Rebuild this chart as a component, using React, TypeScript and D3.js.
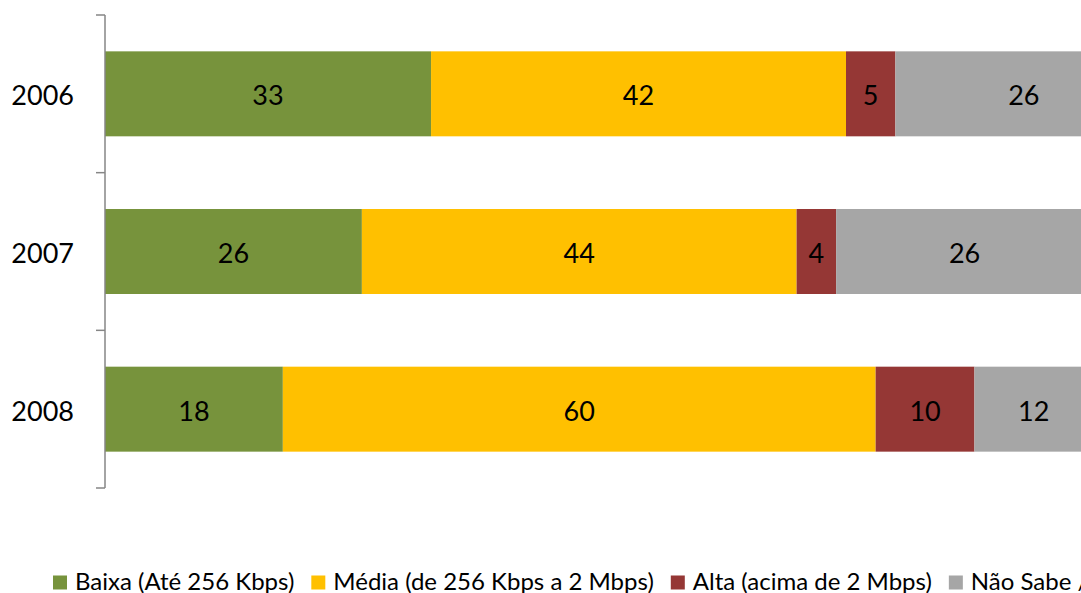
import React, { useEffect, useRef } from "react";
import * as d3 from "d3";

// Broadband speed share by year (%)
const years = ["2006", "2007", "2008"];
const seriesNames = [
  "Baixa (Até 256 Kbps)",
  "Média (de 256 Kbps a 2 Mbps)",
  "Alta (acima de 2 Mbps)",
  "Não Sabe / Não Respondeu",
];
const baixa = [33, 26, 18];
const media = [42, 44, 60];
const alta = [5, 4, 10];
const naoSabe = [26, 26, 12];
const seriesColors = ["#77933C", "#FFC000", "#953735", "#A6A6A6"];

const W = 1081;
const H = 593;
const FONT = "Lato, 'Open Sans', sans-serif";

export default function App() {
  const ref = useRef<SVGSVGElement>(null);

  useEffect(() => {
    const svg = d3.select(ref.current);
    svg.selectAll("*").remove();

    const values = [baixa, media, alta, naoSabe];
    const rows = years.map((y, i) => {
      const r: any = { year: y };
      seriesNames.forEach((s, k) => (r[s] = values[k][i]));
      return r;
    });
    const stacked = d3.stack<any>().keys(seriesNames)(rows);

    const x = d3.scaleLinear().domain([0, 100]).range([105, 1093]);
    const y = d3
      .scaleBand<string>()
      .domain(years)
      .range([15, 488])
      .paddingInner(0.461)
      .paddingOuter(0.2305);

    const g = svg.append("g");

    stacked.forEach((layer, k) => {
      const lg = g.append("g");
      lg.selectAll("rect")
        .data(layer)
        .join("rect")
        .attr("x", (d) => x(d[0]))
        .attr("y", (d) => y(d.data.year)!)
        .attr("width", (d) => x(d[1]) - x(d[0]))
        .attr("height", y.bandwidth())
        .attr("fill", seriesColors[k]);
      lg.selectAll("text")
        .data(layer)
        .join("text")
        .attr("x", (d) => (x(d[0]) + x(d[1])) / 2)
        .attr("y", (d) => y(d.data.year)! + y.bandwidth() / 2 + 1)
        .attr("text-anchor", "middle")
        .attr("dominant-baseline", "central")
        .attr("font-family", FONT)
        .attr("font-size", 27)
        .attr("fill", "#000")
        .text((d) => String(d[1] - d[0]));
    });

    // Category axis
    const axisX = 105;
    const ax = svg.append("g");
    ax.append("line")
      .attr("x1", axisX)
      .attr("x2", axisX)
      .attr("y1", 15)
      .attr("y2", 488)
      .attr("stroke", "#868686")
      .attr("stroke-width", 1.5);
    const step = y.step();
    const tickYs = d3.range(years.length + 1).map((i) => 15 + i * step);
    ax.selectAll("line.tick")
      .data(tickYs)
      .join("line")
      .attr("class", "tick")
      .attr("x1", axisX - 9)
      .attr("x2", axisX)
      .attr("y1", (d) => d)
      .attr("y2", (d) => d)
      .attr("stroke", "#868686")
      .attr("stroke-width", 1.5);
    ax.selectAll("text")
      .data(years)
      .join("text")
      .attr("x", 74)
      .attr("y", (d) => y(d)! + y.bandwidth() / 2 + 1)
      .attr("text-anchor", "end")
      .attr("dominant-baseline", "central")
      .attr("font-family", FONT)
      .attr("font-size", 27)
      .attr("fill", "#000")
      .text((d) => d);

    // Legend, laid out left to right along the bottom edge
    const leg = svg.append("g");
    let cx = 53;
    const baseline = 590;
    seriesNames.forEach((name, k) => {
      leg.append("rect")
        .attr("x", cx)
        .attr("y", 575.5)
        .attr("width", 14)
        .attr("height", 14)
        .attr("fill", seriesColors[k]);
      const t = leg
        .append("text")
        .attr("x", cx + 22)
        .attr("y", baseline)
        .attr("font-family", FONT)
        .attr("font-size", 24)
        .attr("fill", "#000")
        .text(name);
      const w = (t.node() as SVGTextElement).getComputedTextLength();
      cx = cx + 22 + w + 17;
    });
  }, []);

  return (
    <svg
      ref={ref}
      width={W}
      height={H}
      style={{ position: "absolute", left: 0, top: 0, overflow: "hidden", background: "#fff" }}
    />
  );
}
